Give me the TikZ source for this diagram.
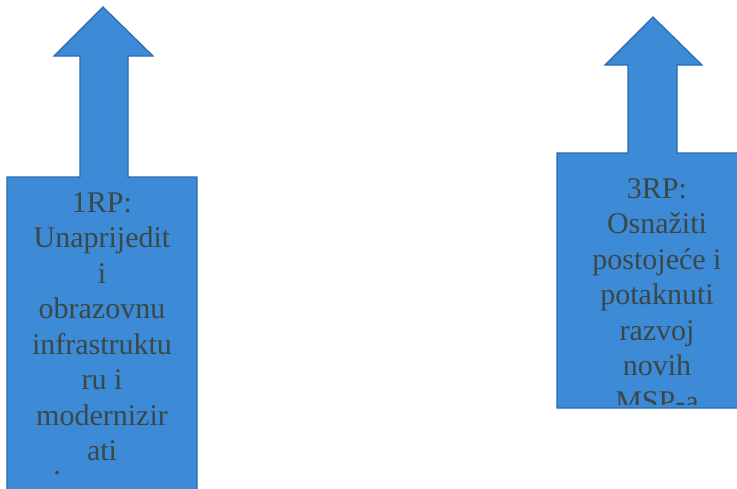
\documentclass[tikz,border=0pt]{standalone}
\usepackage{fontspec}
\setmainfont{Liberation Serif}
\usepackage{tikz}

\definecolor{rpblue}{HTML}{3D8AD6}
\definecolor{rpedge}{HTML}{2A6CB2}
\definecolor{rpink}{HTML}{3A4848}

\begin{document}
\begin{tikzpicture}[x=1pt,y=-1pt,
		blockarrow/.style={fill=rpblue,draw=rpedge,line width=1.2pt,line join=miter},
		rptext/.style={text=rpink,align=center,inner sep=0pt,anchor=north,
			font=\fontsize{30}{35.5}\selectfont}]
		\useasboundingbox (0,0) rectangle (737,488);
		\clip (0,0) rectangle (737,488);
		
		% left arrow, 1RP
		\draw[blockarrow] (7,495) -- (7,177) -- (80,177) -- (80,56) -- (54,56) -- (103,7)
			-- (153,56) -- (128,56) -- (128,177) -- (197,177) -- (197,495);
		\node[rptext] (rp1) at (102,192) {1RP:\\Unaprijedit\\i\\obrazovnu\\infrastruktu\\ru i\\modernizir\\ati\\[-22pt]\hspace*{-3em}.};
		
		% right arrow, 3RP
		\draw[blockarrow] (557,408) -- (557,153) -- (628,153) -- (628,65) -- (605,65) -- (653,17)
			-- (702,65) -- (677,65) -- (677,153) -- (748,153) -- (748,408) -- cycle;
		\begin{scope}
			\clip (557,153) rectangle (748,404);
			\node[rptext] (rp3) at (657,178) {3RP:\\Osnažiti\\postojeće i\\potaknuti\\razvoj\\novih\\MSP-a};
		\end{scope}
	\end{tikzpicture}
\end{document}
